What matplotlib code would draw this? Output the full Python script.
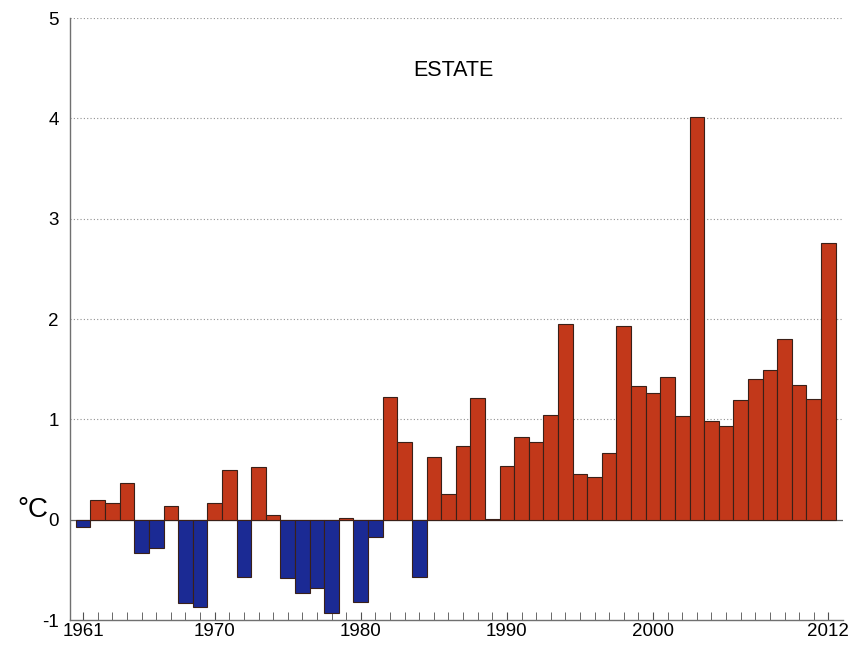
import matplotlib
matplotlib.use("Agg")
from matplotlib import pyplot as plt

# summer temperature anomalies (degrees C), one value per year
years = list(range(1961, 2013))
anomalies = [-0.07, 0.20, 0.17, 0.37, -0.33, -0.28, 0.14, -0.83, -0.87, 0.17,
             0.50, -0.57, 0.53, 0.05, -0.58, -0.73, -0.68, -0.93, 0.02, -0.82,
             -0.17, 1.22, 0.77, -0.57, 0.63, 0.26, 0.73, 1.21, 0.01, 0.54,
             0.82, 0.77, 1.04, 1.95, 0.46, 0.43, 0.66, 1.93, 1.33, 1.26,
             1.42, 1.03, 4.01, 0.98, 0.93, 1.19, 1.40, 1.49, 1.80, 1.34,
             1.20, 2.76]
labelYears = [1961, 1970, 1980, 1990, 2000, 2012]

plt.rcParams['font.family'] = ['Liberation Sans', 'DejaVu Sans']
plt.rcParams['axes.unicode_minus'] = False

fig = plt.figure(figsize=(8.52, 6.46), dpi=100)
ax = fig.add_axes([0.0822, 0.0402, 0.9072, 0.9318])

#red for warm years, blue for cold ones
colors = ['#C2381A' if v >= 0 else '#1B2A94' for v in anomalies]
ax.bar(years, anomalies, width=1.0, color=colors, edgecolor='#3a2018',
       linewidth=0.8, zorder=3)

#dotted grid and zero line
for y in [1, 2, 3, 4, 5]:
    ax.axhline(y, color='#909090', linestyle=(0, (1, 2)), linewidth=0.8, zorder=1)
ax.axhline(0, color='#606060', linewidth=0.9, zorder=2)

ax.set_xlim(1960.1, 2013.0)
ax.set_ylim(-1, 5)
ax.set_yticks(range(-1, 6))
ax.set_xticks(years, minor=True)
ax.set_xticks(labelYears)
ax.set_xticklabels([str(y) for y in labelYears])

for s in ['top', 'right']:
    ax.spines[s].set_visible(False)
for s in ['left', 'bottom']:
    ax.spines[s].set_color('#707070')
    ax.spines[s].set_linewidth(1.0)

ax.tick_params(axis='x', which='both', direction='in', length=6, color='#505050',
               labelsize=13.5, pad=2)
ax.tick_params(axis='y', length=0, labelsize=13.5, pad=8)

fig.text(453 / 852, 1 - 70 / 646, 'ESTATE', fontsize=15.5, ha='center', va='center')
fig.text(33 / 852, 1 - 510 / 646, '°C', fontsize=20, ha='center', va='center')

fig.savefig('out.png', dpi=100)
